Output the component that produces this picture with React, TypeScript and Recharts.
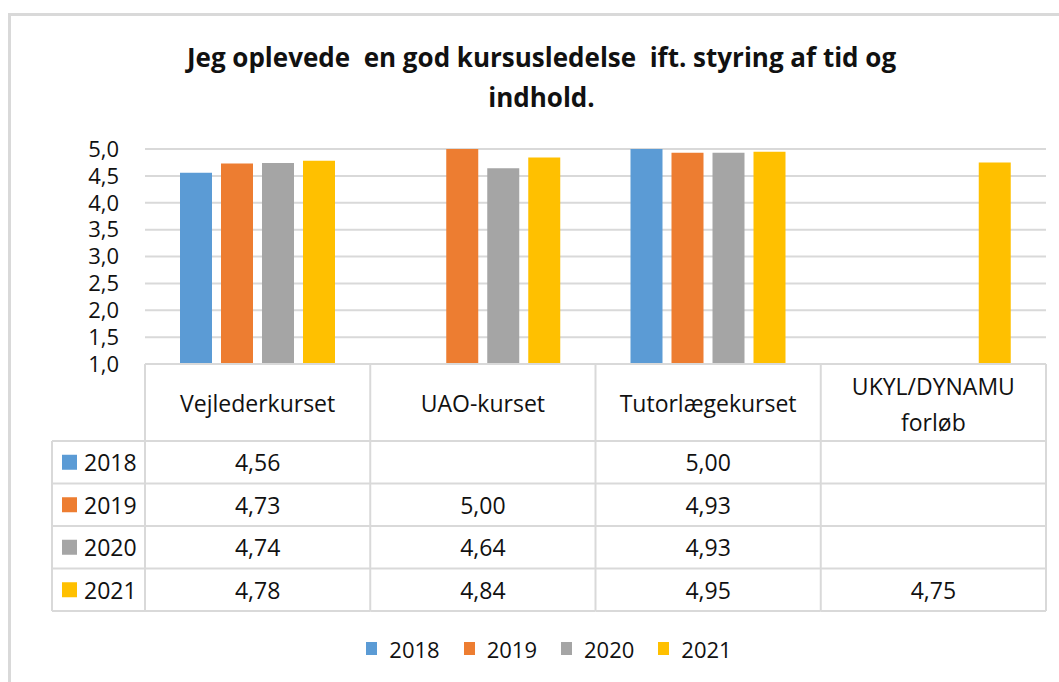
import React from "react";
import { BarChart, Bar, XAxis, YAxis, CartesianGrid, Legend } from "recharts";

const categories = ["Vejlederkurset", "UAO-kurset", "Tutorlægekurset", "UKYL/DYNAMU forløb"];
const seriesNames = ["2018", "2019", "2020", "2021"];
const values2018 = [4.56, null, 5.0, null];
const values2019 = [4.73, 5.0, 4.93, null];
const values2020 = [4.74, 4.64, 4.93, null];
const values2021 = [4.78, 4.84, 4.95, 4.75];
const seriesColors = ["#5B9BD5", "#ED7D31", "#A5A5A5", "#FFC000"];
const yTicks = [1, 1.5, 2, 2.5, 3, 3.5, 4, 4.5, 5];
const titleLines = ["Jeg oplevede  en god kursusledelse  ift. styring af tid og", "indhold."];

const seriesValues = [values2018, values2019, values2020, values2021];

const data = categories.map((name, i) => {
  const row: any = { name };
  seriesNames.forEach((s, k) => {
    row[s] = seriesValues[k][i];
  });
  return row;
});

const FONT = "'Open Sans', 'Noto Sans', sans-serif";
const TEXT = "#111111";
const LINE = "#D9D9D9";
const HEADER_H = 77;
const ROW_H = 42.5;
const LEFT_COL_W = 93;

const fmt2 = (v: number | null) => (v == null ? "" : v.toFixed(2).replace(".", ","));
const fmt1 = (v: number) => v.toFixed(1).replace(".", ",");

function TableTick(props: any) {
  const { x, y, payload } = props;
  const half = payload && payload.offset ? payload.offset : 112.6;
  const catIndex = categories.indexOf(payload.value);
  const left = x - half;
  const right = x + half;
  const bottom = y + HEADER_H + ROW_H * seriesNames.length;
  const labelLines = String(payload.value).split(" ");
  const els: any[] = [];

  els.push(<line key="vr" x1={right} x2={right} y1={y} y2={bottom} stroke={LINE} strokeWidth={2} />);
  if (catIndex === 0) {
    els.push(<line key="vl" x1={left} x2={left} y1={y} y2={bottom} stroke={LINE} strokeWidth={2} />);
    const lx = left - LEFT_COL_W;
    els.push(<line key="vll" x1={lx} x2={lx} y1={y + HEADER_H} y2={bottom} stroke={LINE} strokeWidth={2} />);
    for (let r = 0; r <= seriesNames.length; r++) {
      const yy = y + HEADER_H + r * ROW_H;
      els.push(<line key={"hl" + r} x1={lx} x2={left} y1={yy} y2={yy} stroke={LINE} strokeWidth={2} />);
    }
    seriesNames.forEach((s, r) => {
      const cy = y + HEADER_H + (r + 0.5) * ROW_H;
      els.push(<rect key={"k" + r} x={lx + 10} y={cy - 7.5} width={15} height={15} fill={seriesColors[r]} />);
      els.push(
        <text key={"kt" + r} x={lx + 32} y={cy} dominantBaseline="central" textAnchor="start" fontSize={23} fontFamily={FONT} fill={TEXT}>
          {s}
        </text>
      );
    });
  }
  for (let r = 0; r <= seriesNames.length; r++) {
    const yy = y + HEADER_H + r * ROW_H;
    els.push(<line key={"h" + r} x1={left} x2={right} y1={yy} y2={yy} stroke={LINE} strokeWidth={2} />);
  }
  els.push(<line key="htop" x1={left} x2={right} y1={y} y2={y} stroke={LINE} strokeWidth={2} />);

  if (labelLines.length === 1) {
    els.push(
      <text key="hd" x={x} y={y + 39} dominantBaseline="central" textAnchor="middle" fontSize={23} fontFamily={FONT} fill={TEXT}>
        {labelLines[0]}
      </text>
    );
  } else {
    labelLines.forEach((ln, j) => {
      els.push(
        <text key={"hd" + j} x={x} y={y + 22 + j * 36} dominantBaseline="central" textAnchor="middle" fontSize={23} fontFamily={FONT} fill={TEXT}>
          {ln}
        </text>
      );
    });
  }
  seriesNames.forEach((s, r) => {
    const cy = y + HEADER_H + (r + 0.5) * ROW_H;
    els.push(
      <text key={"v" + r} x={x} y={cy} dominantBaseline="central" textAnchor="middle" fontSize={23} fontFamily={FONT} fill={TEXT}>
        {fmt2(seriesValues[r][catIndex])}
      </text>
    );
  });
  return <g>{els}</g>;
}

function LegendContent(props: any) {
  const payload = props.payload || [];
  return (
    <div
      style={{
        height: 71,
        display: "flex",
        justifyContent: "center",
        alignItems: "center",
        paddingLeft: 52,
        paddingTop: 4,
        boxSizing: "border-box",
        fontFamily: FONT,
      }}
    >
      {payload.map((p: any, i: number) => (
        <div key={i} style={{ display: "flex", alignItems: "center", marginRight: i < payload.length - 1 ? 24 : 0 }}>
          <div style={{ width: 11, height: 13, background: p.color, marginRight: 12 }} />
          <span style={{ fontSize: 22, color: TEXT, lineHeight: "24px" }}>{p.value}</span>
        </div>
      ))}
    </div>
  );
}

export default function App() {
  return (
    <div style={{ position: "absolute", left: 0, top: 0, width: 1059, height: 682, background: "#fff", overflow: "hidden", fontFamily: FONT }}>
      <div
        style={{
          position: "absolute",
          left: 8,
          top: 13,
          width: 1100,
          height: 720,
          borderLeft: `3px solid ${LINE}`,
          borderTop: `3px solid ${LINE}`,
        }}
      />
      <div
        style={{
          position: "absolute",
          left: 0,
          top: 37,
          width: 1083,
          textAlign: "center",
          fontWeight: 700,
          fontSize: 26,
          lineHeight: "40px",
          color: TEXT,
          whiteSpace: "pre",
          zIndex: 2,
        }}
      >
        {titleLines.map((t, i) => (
          <div key={i}>{t}</div>
        ))}
      </div>
      <div style={{ position: "absolute", left: 0, top: 0 }}>
        <BarChart
          width={1059}
          height={682}
          data={data}
          margin={{ top: 149, right: 13, left: 0, bottom: 0 }}
          barSize={32}
          barGap={9}
        >
          <CartesianGrid vertical={false} stroke={LINE} strokeWidth={2} />
          <YAxis
            width={145}
            domain={[1, 5]}
            ticks={yTicks}
            interval={0}
            tickFormatter={fmt1}
            axisLine={false}
            tickLine={false}
            tickMargin={20}
            tick={{ fill: TEXT, fontSize: 22, fontFamily: FONT }}
          />
          <XAxis
            dataKey="name"
            height={247}
            interval={0}
            axisLine={false}
            tickLine={false}
            tickSize={0}
            tickMargin={0}
            tick={<TableTick />}
          />
          {seriesNames.map((s, k) => (
            <Bar key={s} dataKey={s} name={s} fill={seriesColors[k]} isAnimationActive={false} />
          ))}
          <Legend verticalAlign="bottom" content={<LegendContent />} />
        </BarChart>
      </div>
    </div>
  );
}
